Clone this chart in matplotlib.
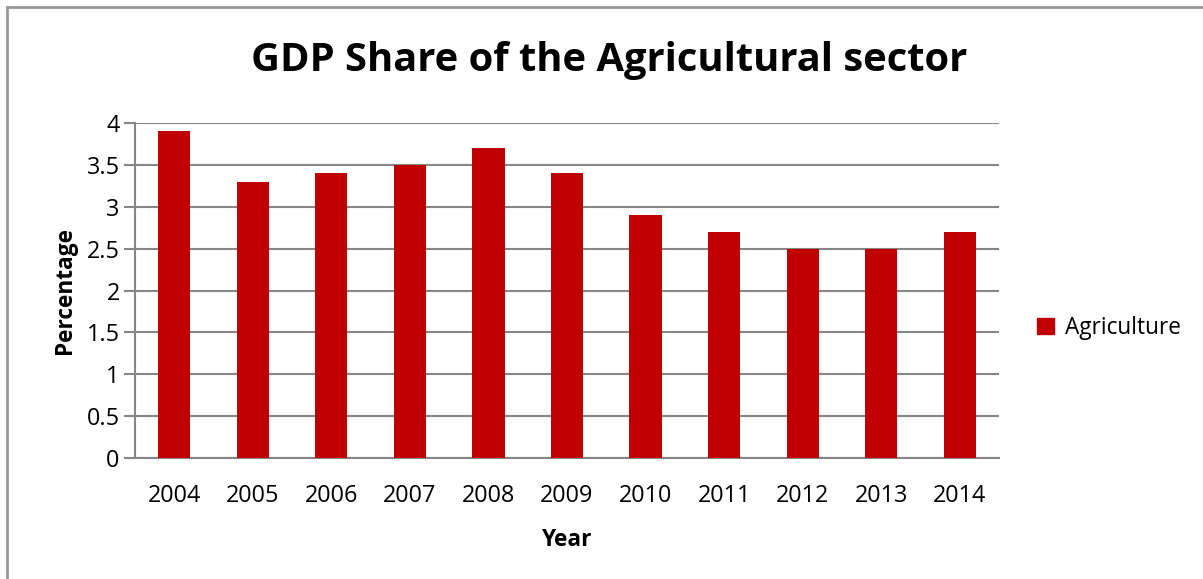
import matplotlib
matplotlib.use('Agg')
import matplotlib.pyplot as plt
from matplotlib.patches import Patch

years = ['2004', '2005', '2006', '2007', '2008', '2009', '2010', '2011', '2012', '2013', '2014']
agriculture = [3.9, 3.3, 3.4, 3.5, 3.7, 3.4, 2.9, 2.7, 2.5, 2.5, 2.7]
yticks = [0, 0.5, 1, 1.5, 2, 2.5, 3, 3.5, 4]
ytick_labels = ['0', '0.5', '1', '1.5', '2', '2.5', '3', '3.5', '4']

plt.rcParams['font.family'] = ['Open Sans', 'DejaVu Sans']
bar_color = '#C00000'
grid_color = '#868686'

fig = plt.figure(figsize=(12.03, 5.79), dpi=100)
ax = fig.add_axes([135 / 1203, 1 - 458 / 579, 864 / 1203, 335 / 579])

x = range(len(years))
ax.bar(x, agriculture, width=0.41, color=bar_color, zorder=3)

ax.set_xlim(-0.5, len(years) - 0.5)
ax.set_ylim(0, 4)
ax.set_yticks(yticks)
ax.set_yticklabels(ytick_labels, fontsize=16.8)
ax.set_xticks(list(x))
ax.set_xticklabels(years, fontsize=16.8)

ax.yaxis.grid(True, color=grid_color, linewidth=1.5, zorder=0)
for side in ['top', 'right']:
    ax.spines[side].set_visible(False)
for side in ['left', 'bottom']:
    ax.spines[side].set_color(grid_color)
    ax.spines[side].set_linewidth(1.5)
ax.tick_params(axis='y', length=8, width=1.5, color=grid_color, pad=3)
ax.tick_params(axis='x', length=0, pad=19)

ax.set_ylabel('Percentage', fontsize=16.3, fontweight='bold', labelpad=7)
ax.set_xlabel('Year', fontsize=16.3, fontweight='bold', labelpad=14)

fig.text(0.506, 1 - 60 / 579, 'GDP Share of the Agricultural sector',
         fontsize=28.7, fontweight='bold', ha='center', va='center')

fig.legend(handles=[Patch(color=bar_color, label='Agriculture')],
           loc='center left', bbox_to_anchor=(1017 / 1203, 1 - 328 / 579),
           frameon=False, fontsize=16.3, handlelength=0.75, handleheight=0.75,
           handletextpad=0.45)

# outer chart border (top and left edges visible)
fig.add_artist(plt.Line2D([7 / 1203, 7 / 1203], [0, 1 - 7 / 579],
                          transform=fig.transFigure, color='#999999', linewidth=2))
fig.add_artist(plt.Line2D([7 / 1203, 1], [1 - 7 / 579, 1 - 7 / 579],
                          transform=fig.transFigure, color='#999999', linewidth=2))

fig.savefig('out.png', dpi=100)
